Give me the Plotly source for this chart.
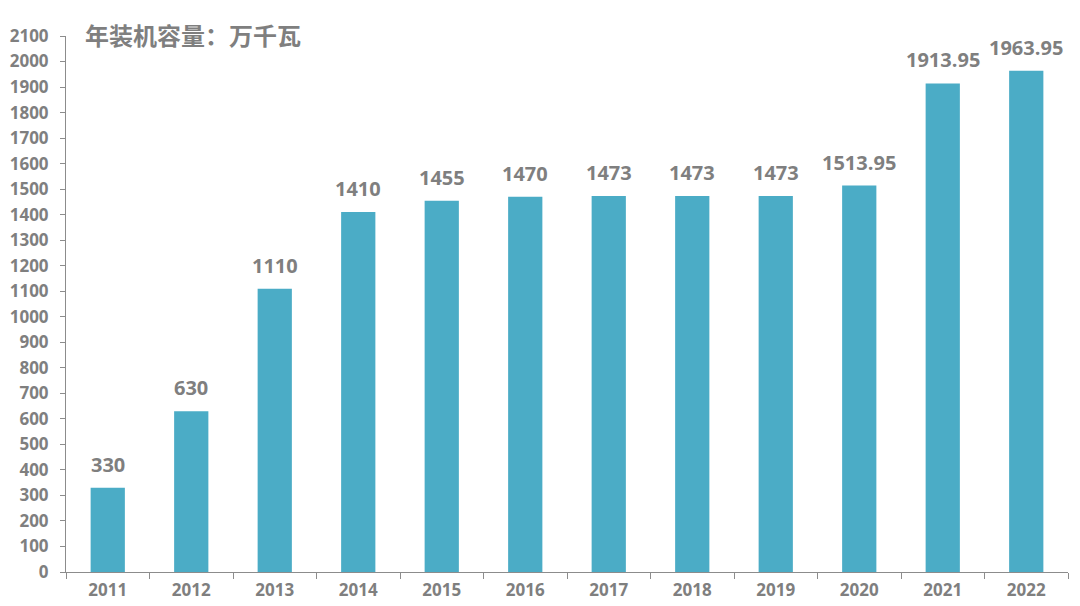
import plotly.graph_objects as go

years = ["2011", "2012", "2013", "2014", "2015", "2016", "2017", "2018", "2019", "2020", "2021", "2022"]
capacity = [330, 630, 1110, 1410, 1455, 1470, 1473, 1473, 1473, 1513.95, 1913.95, 1963.95]
labels = ["330", "630", "1110", "1410", "1455", "1470", "1473", "1473", "1473", "1513.95", "1913.95", "1963.95"]
title_text = "年装机容量：万千瓦"

gray = "#7f7f7f"
font_family = "Open Sans, Noto Sans CJK SC, sans-serif"

fig = go.Figure(go.Bar(
    x=years, y=capacity,
    marker=dict(color="#4BACC6", line=dict(width=0)),
    cliponaxis=False,
))

# category axis: annotation x given as the category index
annotations = [dict(
    x=i, y=v, xref="x", yref="y", text="<b>" + lab + "</b>",
    showarrow=False, xanchor="center", yanchor="bottom", yshift=8,
    font=dict(size=20, color=gray, family=font_family),
) for i, (v, lab) in enumerate(zip(capacity, labels))]

annotations.append(dict(
    text="<b>" + title_text + "</b>", xref="paper", yref="paper",
    x=0.017, y=1.002, xanchor="left", yanchor="middle", showarrow=False,
    font=dict(size=24, color=gray, family="Noto Sans CJK SC, sans-serif"),
))

fig.update_layout(
    width=1064, height=590,
    margin=dict(l=58, r=4, t=28, b=26, autoexpand=False),
    plot_bgcolor="white", paper_bgcolor="white",
    bargap=0.59,
    showlegend=False,
    font=dict(family=font_family, color=gray),
    xaxis=dict(
        type="category",
        automargin=False,
        showline=True, linecolor="#8c8c8c", linewidth=1,
        ticks="outside", ticklen=6, tickcolor="#8c8c8c", tickson="boundaries",
        ticklabelstandoff=3,
        tickfont=dict(size=17, color=gray, family=font_family, weight="bold"),
        showgrid=False,
    ),
    yaxis=dict(
        automargin=False,
        range=[0, 2100], dtick=100, tick0=0,
        showline=True, linecolor="#8c8c8c", linewidth=1,
        ticks="outside", ticklen=5, tickcolor="#8c8c8c",
        ticklabelstandoff=8,
        tickfont=dict(size=17, color=gray, family=font_family, weight="bold"),
        showgrid=False, zeroline=False,
    ),
    annotations=annotations,
)

fig.write_html("out.html")
